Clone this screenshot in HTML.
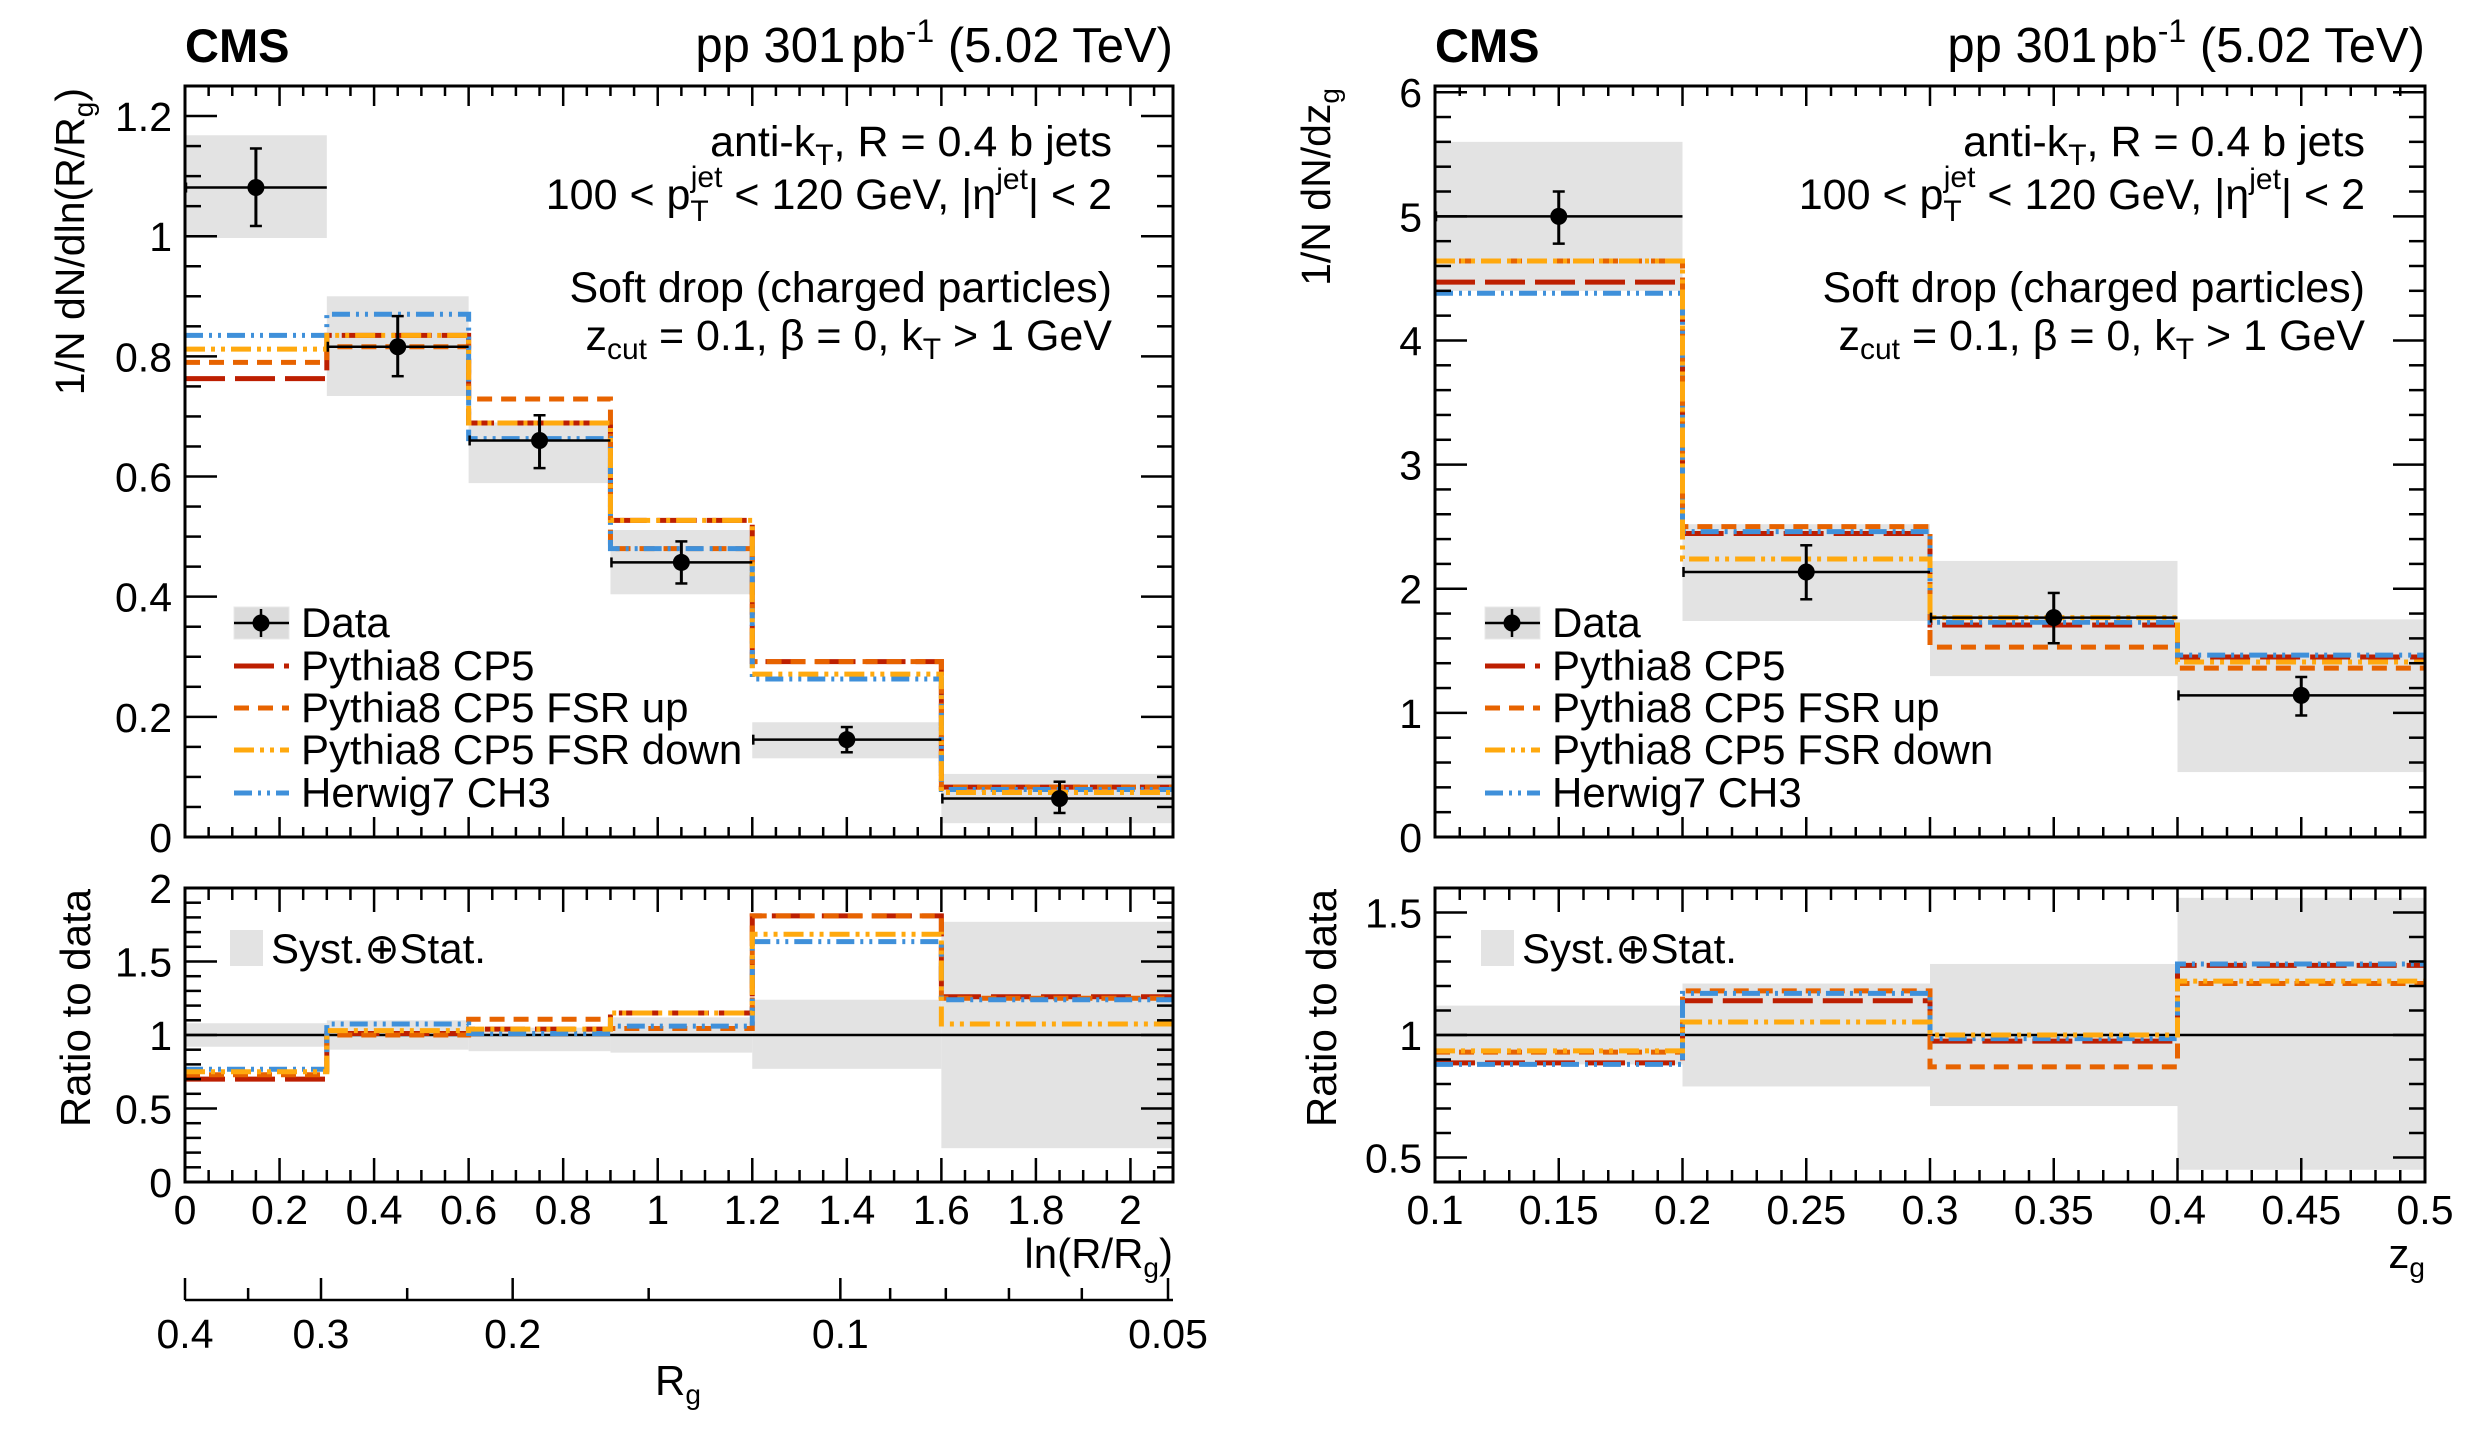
<!DOCTYPE html>
<html><head><meta charset="utf-8"><style>
html,body{margin:0;padding:0;background:#fff}
svg{display:block;font-family:"Liberation Sans",Arial,sans-serif}
</style></head><body>
<svg id="c" width="2485" height="1442" viewBox="0 0 2485 1442" xmlns="http://www.w3.org/2000/svg"></svg>
<script>
// ---------- LEFT: ln(R/Rg) ----------
const lEdges = [0, 0.3, 0.6, 0.9, 1.2, 1.6, 2.1];
const lData = [1.081, 0.816, 0.660, 0.457, 0.162, 0.064];
const lStatLo = [1.017, 0.767, 0.614, 0.422, 0.141, 0.040];
const lStatHi = [1.146, 0.867, 0.702, 0.492, 0.183, 0.092];
const lBoxLo = [0.997, 0.734, 0.589, 0.404, 0.131, 0.023];
const lBoxHi = [1.168, 0.900, 0.690, 0.511, 0.191, 0.105];
const lCP5 = [0.763, 0.835, 0.689, 0.527, 0.292, 0.083];
const lUp = [0.790, 0.816, 0.729, 0.480, 0.292, 0.083];
const lDown = [0.812, 0.835, 0.689, 0.527, 0.271, 0.074];
const lHer = [0.835, 0.870, 0.663, 0.480, 0.263, 0.079];
const lBandLo = [0.92, 0.90, 0.89, 0.88, 0.77, 0.23];
const lBandHi = [1.08, 1.10, 1.05, 1.12, 1.24, 1.77];
const lRCP5 = [0.70, 1.01, 1.04, 1.15, 1.81, 1.26];
const lRUp = [0.73, 1.00, 1.107, 1.044, 1.81, 1.25];
const lRDown = [0.75, 1.03, 1.04, 1.15, 1.685, 1.075];
const lRHer = [0.767, 1.075, 1.01, 1.06, 1.635, 1.24];
const lXTicks = ["0","0.2","0.4","0.6","0.8","1","1.2","1.4","1.6","1.8","2"];
const lYTicks = ["0","0.2","0.4","0.6","0.8","1","1.2"];
const lRTicks = ["0","0.5","1","1.5","2"];
const rgTicks = ["0.4","0.3","0.2","0.1","0.05"];
// ---------- RIGHT: zg ----------
const rEdges = [0.1, 0.2, 0.3, 0.4, 0.5];
const rData = [5.0, 2.135, 1.767, 1.141];
const rStatLo = [4.78, 1.915, 1.561, 0.979];
const rStatHi = [5.20, 2.35, 1.966, 1.289];
const rBoxLo = [4.40, 1.74, 1.296, 0.523];
const rBoxHi = [5.60, 2.52, 2.224, 1.753];
const rCP5 = [4.47, 2.445, 1.708, 1.45];
const rUp = [4.64, 2.50, 1.53, 1.36];
const rDown = [4.64, 2.24, 1.767, 1.41];
const rHer = [4.38, 2.46, 1.73, 1.465];
const rBandLo = [0.88, 0.79, 0.71, 0.45];
const rBandHi = [1.12, 1.21, 1.29, 1.56];
const rRCP5 = [0.886, 1.14, 0.975, 1.284];
const rRUp = [0.93, 1.18, 0.87, 1.21];
const rRDown = [0.935, 1.053, 1.0, 1.22];
const rRHer = [0.88, 1.17, 0.985, 1.29];
const rXTicks = ["0.1","0.15","0.2","0.25","0.3","0.35","0.4","0.45","0.5"];
const rYTicks = ["0","1","2","3","4","5","6"];
const rRTicks = ["0.5","1","1.5"];

const NS = "http://www.w3.org/2000/svg";
const svg = document.getElementById('c');
function mk(tag, attrs, parent, text){
  const e = document.createElementNS(NS, tag);
  for (const k in attrs) e.setAttribute(k, attrs[k]);
  if (text !== undefined) e.textContent = text;
  (parent || svg).appendChild(e);
  return e;
}
const styles = {
  cp5: {c:"#bd1f01", d:"40 10"},
  up: {c:"#e76300", d:"15 9"},
  down: {c:"#ffa90e", d:"20 6 4 6 4 6"},
  her: {c:"#3f90da", d:"18 6 3 6 3 6"}
};
const TOP0 = 86, TOP1 = 837, RAT0 = 888, RAT1 = 1182;
const FS = 42;

function panel(o){
  const g = mk('g', {});
  
  
  const x0 = o.x0, x1 = o.x1;
  const sx = v => x0 + (v - o.xmin) / (o.xmax - o.xmin) * (x1 - x0);
  const sy = v => TOP1 - (v - o.ymin) / (o.ymax - o.ymin) * (TOP1 - TOP0);
  const sr = v => RAT1 - (v - o.rmin) / (o.rmax - o.rmin) * (RAT1 - RAT0);
  const cid = o.name + '-clip';
  const cp = mk('clipPath', {id: cid}, g);
  mk('rect', {x: x0, y: TOP0, width: x1 - x0, height: TOP1 - TOP0}, cp);
  const cid2 = o.name + '-clip2';
  const cp2 = mk('clipPath', {id: cid2}, g);
  mk('rect', {x: x0, y: RAT0, width: x1 - x0, height: RAT1 - RAT0}, cp2);
  const tg = mk('g', {'clip-path': 'url(#' + cid + ')'}, g);
  const rg = mk('g', {'clip-path': 'url(#' + cid2 + ')'}, g);
  const E = o.edges, n = E.length - 1;
  for (let i = 0; i < n; i++) {
    const r = mk('rect', {x: sx(E[i]), y: sy(o.boxHi[i]), width: sx(E[i+1]) - sx(E[i]), height: sy(o.boxLo[i]) - sy(o.boxHi[i]), fill: '#e3e3e3'}, tg);
    
    
    const b = mk('rect', {x: sx(E[i]), y: sr(o.bandHi[i]), width: sx(E[i+1]) - sx(E[i]), height: sr(o.bandLo[i]) - sr(o.bandHi[i]), fill: '#e3e3e3'}, rg);
    
    
  }
  mk('line', {x1: x0, x2: x1, y1: sr(1), y2: sr(1), stroke: '#000', 'stroke-width': 2.5}, rg);
  function hist(vals, key, parent, scale, label){
    const s = styles[key];
    let d = '';
    for (let i = 0; i < n; i++) {
      d += (i === 0 ? 'M' : 'L') + sx(E[i]) + ' ' + scale(vals[i]) + ' L' + sx(E[i+1]) + ' ' + scale(vals[i]);
    }
    const p = mk('path', {d: d, fill: 'none', stroke: s.c, 'stroke-width': 5, 'stroke-dasharray': s.d}, parent);
    
    
  }
  hist(o.cp5, 'cp5', tg, sy, 'pythia8-cp5-line');
  hist(o.up, 'up', tg, sy, 'pythia8-fsr-up-line');
  hist(o.her, 'her', tg, sy, 'herwig7-line');
  hist(o.down, 'down', tg, sy, 'pythia8-fsr-down-line');
  hist(o.rcp5, 'cp5', rg, sr, 'ratio-pythia8-cp5');
  hist(o.rup, 'up', rg, sr, 'ratio-pythia8-fsr-up');
  hist(o.rher, 'her', rg, sr, 'ratio-herwig7');
  hist(o.rdown, 'down', rg, sr, 'ratio-pythia8-fsr-down');
  for (let i = 0; i < n; i++) {
    const cx = sx((E[i] + E[i+1]) / 2), cy = sy(o.data[i]);
    const pg = mk('g', {}, tg);
    
    
    mk('line', {x1: sx(E[i]), x2: Math.min(sx(E[i+1]), x1 - 1), y1: cy, y2: cy, stroke: '#000', 'stroke-width': 2.5}, pg);
    mk('line', {x1: sx(E[i]) + 1, x2: sx(E[i]) + 1, y1: cy - 5, y2: cy + 5, stroke: '#000', 'stroke-width': 2.5}, pg);
    mk('line', {x1: cx, x2: cx, y1: sy(o.statHi[i]), y2: sy(o.statLo[i]), stroke: '#000', 'stroke-width': 3}, pg);
    mk('line', {x1: cx - 6, x2: cx + 6, y1: sy(o.statHi[i]), y2: sy(o.statHi[i]), stroke: '#000', 'stroke-width': 2.5}, pg);
    mk('line', {x1: cx - 6, x2: cx + 6, y1: sy(o.statLo[i]), y2: sy(o.statLo[i]), stroke: '#000', 'stroke-width': 2.5}, pg);
    mk('circle', {cx: cx, cy: cy, r: 8.5, fill: '#000'}, pg);
  }
  for (const [a, b] of [[TOP0, TOP1], [RAT0, RAT1]]) {
    const f = mk('rect', {x: x0, y: a, width: x1 - x0, height: b - a, fill: 'none', stroke: '#000', 'stroke-width': 3}, g);
    
    
  }
  const tk = mk('g', {stroke: '#000', 'stroke-width': 2.5}, g);
  const eps = 1e-9;
  function xticks(a, b, maj, min, lm, ln){
    for (let v = o.xmin; v <= o.xmax + eps; v += min) {
      const isMaj = Math.abs(Math.round((v - o.xmin) / maj) * maj - (v - o.xmin)) < 1e-6;
      const L = isMaj ? lm : ln, x = sx(v);
      mk('line', {x1: x, x2: x, y1: b, y2: b - L}, tk);
      mk('line', {x1: x, x2: x, y1: a, y2: a + L}, tk);
    }
  }
  xticks(TOP0, TOP1, o.xmaj, o.xmin_, 20, 10);
  xticks(RAT0, RAT1, o.xmaj, o.xmin_, 24, 12);
  function yticks(scale, lo, hi, maj, min){
    const start = Math.ceil(lo / min - eps) * min;
    for (let v = start; v <= hi + eps; v += min) {
      const isMaj = Math.abs(Math.round(v / maj) * maj - v) < 1e-6;
      const L = isMaj ? 32 : 16, y = scale(v);
      if (y < Math.min(TOP0, RAT0) - 1) continue;
      mk('line', {x1: x0, x2: x0 + L, y1: y, y2: y}, tk);
      mk('line', {x1: x1, x2: x1 - L, y1: y, y2: y}, tk);
    }
  }
  yticks(sy, o.ymin, o.ymax, o.ymaj, o.yminor);
  yticks(sr, o.rmin, o.rmax, o.rmaj, o.rminor);
  const tl = mk('g', {'font-size': 41, fill: '#000'}, g);
  o.xt.forEach(t => { mk('text', {x: sx(parseFloat(t)), y: 1224, 'text-anchor': 'middle'}, tl, t); });
  o.yt.forEach(t => { mk('text', {x: x0 - 13, y: sy(parseFloat(t)) + 15, 'text-anchor': 'end'}, tl, t); });
  o.rt.forEach(t => { mk('text', {x: x0 - 13, y: sr(parseFloat(t)) + 15, 'text-anchor': 'end'}, tl, t); });
  const cms = mk('text', {x: x0, y: 62, 'font-size': 47, 'font-weight': 'bold'}, g, 'CMS');
  
  
  const hd = mk('text', {x: x1, y: 62, 'font-size': 49, 'text-anchor': 'end'}, g);
  
  
  hd.innerHTML = 'pp 301<tspan dx="6">pb</tspan><tspan dy="-20" font-size="32">-1</tspan><tspan dy="20"> (5.02 TeV)</tspan>';
  const ax = o.annX;
  const an = mk('g', {'font-size': 43, 'text-anchor': 'end'}, g);
  
  
  mk('text', {x: ax, y: 156}, an).innerHTML = 'anti-k<tspan font-size="30" dy="9">T</tspan><tspan dy="-9">, R = 0.4 b jets</tspan>';
  mk('text', {x: ax, y: 209}, an).innerHTML = '100 &lt; p<tspan font-size="30" dy="12">T</tspan><tspan font-size="30" dx="-18" dy="-34">jet</tspan><tspan dy="22"> &lt; 120 GeV, |η</tspan><tspan font-size="30" dy="-20">jet</tspan><tspan dy="20">| &lt; 2</tspan>';
  mk('text', {x: ax, y: 302}, an, 'Soft drop (charged particles)');
  mk('text', {x: ax, y: 350}, an).innerHTML = 'z<tspan font-size="30" dy="9">cut</tspan><tspan dy="-9"> = 0.1, β = 0, k</tspan><tspan font-size="30" dy="9">T</tspan><tspan dy="-9"> &gt; 1 GeV</tspan>';
  const lg = mk('g', {}, g);
  
  
  const lx = o.legX, ys = [637, 680, 722, 764, 807];
  const names = ['Data', 'Pythia8 CP5', 'Pythia8 CP5 FSR up', 'Pythia8 CP5 FSR down', 'Herwig7 CH3'];
  const keys = [null, 'cp5', 'up', 'down', 'her'];
  ys.forEach((y, i) => {
    const eg = mk('g', {}, lg);
    
    
    const cy = y - 14;
    if (i === 0) {
      mk('rect', {x: lx, y: cy - 16, width: 55, height: 32, fill: '#dcdcdc', stroke: '#e8e8e8'}, eg);
      mk('line', {x1: lx, x2: lx + 55, y1: cy, y2: cy, stroke: '#000', 'stroke-width': 2.5}, eg);
      mk('line', {x1: lx + 27, x2: lx + 27, y1: cy - 14, y2: cy + 14, stroke: '#000', 'stroke-width': 2.5}, eg);
      mk('circle', {cx: lx + 27, cy: cy, r: 8.5}, eg);
    } else {
      const s = styles[keys[i]];
      mk('line', {x1: lx, x2: lx + 55, y1: cy, y2: cy, stroke: s.c, 'stroke-width': 5, 'stroke-dasharray': s.d}, eg);
    }
    mk('text', {x: lx + 67, y: y, 'font-size': FS}, eg, names[i]);
  });
  const sl = mk('g', {}, g);
  
  
  mk('rect', {x: o.sysX, y: 930, width: 33, height: 36, fill: '#e3e3e3'}, sl);
  mk('text', {x: o.sysX + 41, y: 963, 'font-size': FS}, sl, 'Syst.⊕Stat.');
  const yt = mk('text', {transform: 'translate(' + o.ytX + ',' + 88 + ') rotate(-90)', 'text-anchor': 'end', 'font-size': 41}, g);
  yt.innerHTML = o.ytitle;
  
  
  const rt = mk('text', {transform: 'translate(' + (o.ytX + 6) + ',' + 889 + ') rotate(-90)', 'text-anchor': 'end', 'font-size': 42}, g, 'Ratio to data');
  
  
  const xt = mk('text', {x: x1, y: 1268, 'text-anchor': 'end', 'font-size': 42}, g);
  xt.innerHTML = o.xtitle;
  
  
  return sx;
}

const sxL = panel({name: 'left-panel', x0: 185, x1: 1173, xmin: 0, xmax: 2.09, ymin: 0, ymax: 1.25, rmin: 0, rmax: 2,
  xmaj: 0.2, xmin_: 0.05, ymaj: 0.2, yminor: 0.05, rmaj: 0.5, rminor: 0.1,
  edges: lEdges, data: lData, statLo: lStatLo, statHi: lStatHi, boxLo: lBoxLo, boxHi: lBoxHi,
  cp5: lCP5, up: lUp, down: lDown, her: lHer, bandLo: lBandLo, bandHi: lBandHi,
  rcp5: lRCP5, rup: lRUp, rdown: lRDown, rher: lRHer,
  xt: lXTicks, yt: lYTicks, rt: lRTicks, annX: 1112, legX: 234, sysX: 230, ytX: 84,
  ytitle: '1/N dN/dln(R/R<tspan font-size="28" dy="9">g</tspan><tspan dy="-9">)</tspan>',
  xtitle: 'ln(R/R<tspan font-size="28" dy="9">g</tspan><tspan dy="-9">)</tspan>'});

panel({name: 'right-panel', x0: 1435, x1: 2425, xmin: 0.1, xmax: 0.5, ymin: 0, ymax: 6.05, rmin: 0.4, rmax: 1.6,
  xmaj: 0.05, xmin_: 0.01, ymaj: 1, yminor: 0.2, rmaj: 0.5, rminor: 0.1,
  edges: rEdges, data: rData, statLo: rStatLo, statHi: rStatHi, boxLo: rBoxLo, boxHi: rBoxHi,
  cp5: rCP5, up: rUp, down: rDown, her: rHer, bandLo: rBandLo, bandHi: rBandHi,
  rcp5: rRCP5, rup: rRUp, rdown: rRDown, rher: rRHer,
  xt: rXTicks, yt: rYTicks, rt: rRTicks, annX: 2365, legX: 1485, sysX: 1481, ytX: 1330,
  ytitle: '1/N dN/dz<tspan font-size="28" dy="9">g</tspan>',
  xtitle: 'z<tspan font-size="28" dy="9">g</tspan>'});

const ag = mk('g', {});


mk('line', {x1: 185, x2: 1173, y1: 1300, y2: 1300, stroke: '#000', 'stroke-width': 2.5}, ag);
const rgMinor = ["0.09","0.08","0.07","0.06","0.15","0.25","0.35"];
rgMinor.forEach(t => { const x = sxL(Math.log(0.4 / parseFloat(t))); mk('line', {x1: x, x2: x, y1: 1300, y2: 1288, stroke: '#000', 'stroke-width': 2.5}, ag); });
rgTicks.forEach(t => {
  const x = sxL(Math.log(0.4 / parseFloat(t)));
  mk('line', {x1: x, x2: x, y1: 1300, y2: 1278, stroke: '#000', 'stroke-width': 2.5}, ag);
  mk('text', {x: x, y: 1348, 'text-anchor': 'middle', 'font-size': 41}, ag, t);
});
const rgt = mk('text', {x: 678, y: 1395, 'text-anchor': 'middle', 'font-size': 42}, ag);
rgt.innerHTML = 'R<tspan font-size="28" dy="9">g</tspan>';


</script>
</body></html>
